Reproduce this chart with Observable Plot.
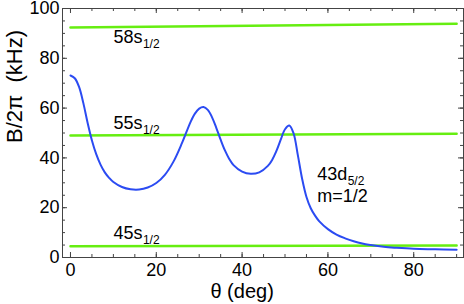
<!DOCTYPE html>
<html><head><meta charset="utf-8">
<script src="https://cdn.jsdelivr.net/npm/d3@7"></script>
<script src="https://cdn.jsdelivr.net/npm/@observablehq/plot@0.6"></script>
<style>body{margin:0;background:#fff}</style>
</head><body><div id="chart"></div>
<script>
// theta (deg) for the 43d5/2 m=1/2 curve
const dTheta = [0,1,2,3,4,5,6,7,8,9,10,12,14,16,18,20,22,24,26,28,29,30,31,32,33,34,35,36,37,38,40,42,44,46,47,48,49,50,51,52,53,54,55,56,57,58,60,62,64,66,68,70,73,76,80,85,90];
const dB     = [73.1,72,68.5,62,54,47,41.5,37.3,34.2,32,30.3,28.3,27.4,27.3,28.1,29.9,33.2,38.5,46,54.5,57.8,59.8,60.4,59.3,56.3,52,47.3,43,39.6,37.1,34.5,33.6,34.2,36.8,39.2,42.8,47.3,51.5,53,49.8,41,31.5,24.3,19.8,16.8,14.5,11.4,9.2,7.7,6.5,5.6,5,4.3,3.9,3.5,3.3,3.1];
// s-state lines (theta, B)
const sTheta = [0, 90];
const s58 = [92.4, 93.9];
const s55 = [49.0, 49.7];
const s45 = [4.5, 4.8];
const sNames = ["58s", "55s", "45s"];
const sLabelY = [86, 51.8, 7.5];
const sLabelX = 10;
const dLabel = ["43d", "m=1/2"];
const dLabelX = 57.5;
const dLabelY = [31.2, 22.2];
const xTicks = [0, 20, 40, 60, 80];
const yTicks = [0, 20, 40, 60, 80, 100];
const xMinor = d3.range(0, 91, 5);
const yMinor = d3.range(0, 101, 5);

const curve = dTheta.map((t, i) => ({t, b: dB[i]}));
const lines = [s58, s55, s45].flatMap((v, k) => sTheta.map((t, i) => ({k, t, b: v[i]})));
const sLab = sNames.map((n, i) => ({n, x: sLabelX, y: sLabelY[i]}));

const W = 464, H = 304;
const font = "'Liberation Sans', Arial, Helvetica, sans-serif";
const green = "#66ee11", blue = "#2b4bf2";
const FH = 249; // frame height px
const FW = 401;

const plot = Plot.plot({
  width: W, height: H,
  marginLeft: 62, marginRight: 1, marginTop: 8, marginBottom: 47,
  style: {fontFamily: font, fontSize: "18px", color: "#000", background: "#fff"},
  x: {domain: [-1.86, 91.6], ticks: xTicks, tickSize: 0, tickPadding: 6, label: null},
  y: {domain: [0, 100], ticks: yTicks, tickSize: 0, tickPadding: 3, label: null},
  marks: [
    // minor/major ticks inward on all sides
    Plot.ruleX(xMinor, {x: d => d, insetTop: FH - 3, stroke: "#444"}),
    Plot.ruleX(xTicks, {x: d => d, insetTop: FH - 5, stroke: "#444"}),
    Plot.ruleX(xMinor, {x: d => d, insetBottom: FH - 3, stroke: "#444"}),
    Plot.ruleX(xTicks, {x: d => d, insetBottom: FH - 5, stroke: "#444"}),
    Plot.ruleY(yMinor, {y: d => d, insetRight: FW - 3, stroke: "#444"}),
    Plot.ruleY(yTicks, {y: d => d, insetRight: FW - 5, stroke: "#444"}),
    Plot.ruleY(yMinor, {y: d => d, insetLeft: FW - 3, stroke: "#444"}),
    Plot.ruleY(yTicks, {y: d => d, insetLeft: FW - 5, stroke: "#444"}),
    Plot.line(lines, {x: "t", y: "b", z: "k", stroke: green, strokeWidth: 2.5}),
    Plot.line(curve, {x: "t", y: "b", stroke: blue, strokeWidth: 2, curve: "catmull-rom"}),
    Plot.text(sLab, {x: "x", y: "y", text: "n", textAnchor: "start", lineAnchor: "bottom", fontSize: 18, fill: "#000"}),
    Plot.text(sLab, {x: "x", y: "y", text: () => "1/2", textAnchor: "start", lineAnchor: "bottom", fontSize: 12, dx: 29.5, dy: 5, fill: "#000"}),
    Plot.text([0], {x: dLabelX, y: dLabelY[0], text: () => dLabel[0], textAnchor: "start", lineAnchor: "bottom", fontSize: 18, fill: "#000"}),
    Plot.text([0], {x: dLabelX, y: dLabelY[0], text: () => "5/2", textAnchor: "start", lineAnchor: "bottom", fontSize: 12, dx: 30.5, dy: 5, fill: "#000"}),
    Plot.text([0], {x: dLabelX, y: dLabelY[1], text: () => dLabel[1], textAnchor: "start", lineAnchor: "bottom", fontSize: 18, fill: "#000"}),
    Plot.text([0], {x: 40, text: () => "θ (deg)", frameAnchor: "bottom", lineAnchor: "middle", dy: 34, fontSize: 20, fill: "#000"}),
    Plot.text([0], {y: 46, text: () => "B/2π  (kHz)", frameAnchor: "left", lineAnchor: "middle", dx: -48, rotate: -90, fontSize: 22, fill: "#000"}),
    Plot.frame({stroke: "#444"})
  ]
});
document.getElementById("chart").appendChild(plot);
</script></body></html>
